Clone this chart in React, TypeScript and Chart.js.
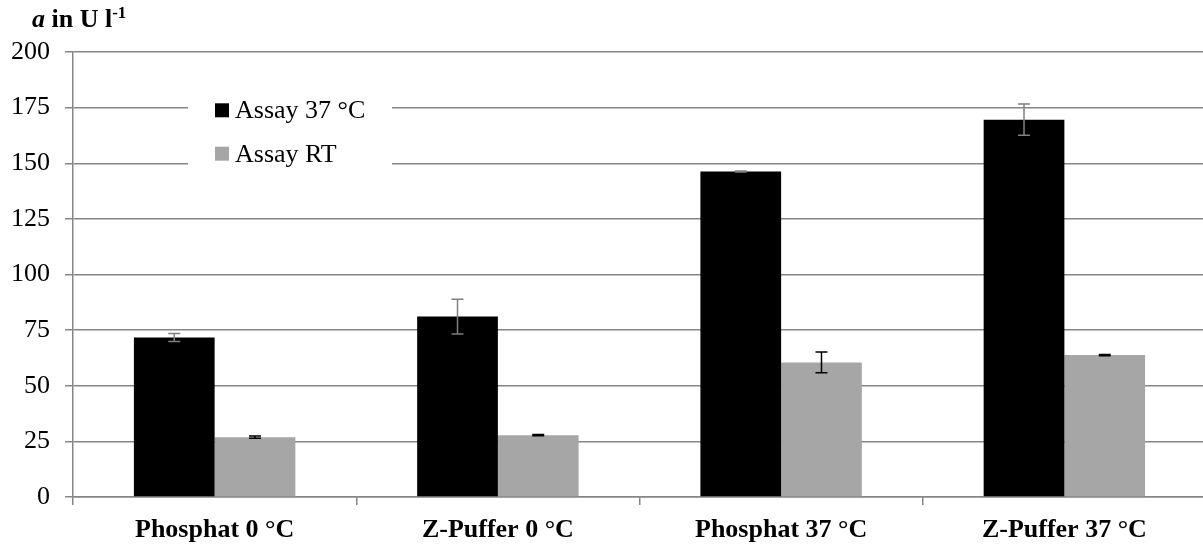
import React, { useEffect, useRef } from "react";
import { Chart, registerables } from "chart.js";

Chart.register(...registerables);

const categories = ["Phosphat 0 °C", "Z-Puffer 0 °C", "Phosphat 37 °C", "Z-Puffer 37 °C"];
const seriesNames = ["Assay 37 °C", "Assay RT"];
const assay37 = [71.7, 81.1, 146.3, 169.6];
const assay37Err = [1.8, 7.8, 0.2, 7.0];
const assayRT = [26.9, 27.8, 60.5, 63.8];
const assayRTErr = [0.5, 0.3, 4.7, 0.3];
const yTicks = [0, 25, 50, 75, 100, 125, 150, 175, 200];

const seriesColors = ["#000000", "#a6a6a6"];
const errColors = ["#808080", "#000000"];
const FONT = "'Liberation Serif', 'DejaVu Serif', serif";

const errorBarPlugin = {
  id: "errorBars",
  afterDatasetsDraw(chart: any) {
    const ctx = chart.ctx;
    const yScale = chart.scales.y;
    const errs = [assay37Err, assayRTErr];
    chart.data.datasets.forEach((ds: any, di: number) => {
      const meta = chart.getDatasetMeta(di);
      meta.data.forEach((el: any, i: number) => {
        const v = ds.data[i];
        const e = errs[di][i];
        const yt = yScale.getPixelForValue(v + e);
        const yb = yScale.getPixelForValue(v - e);
        const x = el.x;
        ctx.save();
        ctx.strokeStyle = errColors[di];
        ctx.lineWidth = 1.5;
        ctx.beginPath();
        ctx.moveTo(x, yt);
        ctx.lineTo(x, yb);
        ctx.moveTo(x - 6, yt);
        ctx.lineTo(x + 6, yt);
        ctx.moveTo(x - 6, yb);
        ctx.lineTo(x + 6, yb);
        ctx.stroke();
        ctx.restore();
      });
    });
  },
};

const legendTitlePlugin = {
  id: "legendTitle",
  afterDraw(chart: any) {
    const ctx = chart.ctx;
    ctx.save();
    // legend box
    ctx.fillStyle = "#ffffff";
    ctx.fillRect(188, 90, 204, 88);
    const baselines = [118.3, 161.7];
    const squareTops = [103.3, 146.7];
    chart.data.datasets.forEach((ds: any, i: number) => {
      ctx.fillStyle = seriesColors[i];
      ctx.fillRect(215, squareTops[i], 14, 14);
      ctx.fillStyle = "#000000";
      ctx.font = `26px ${FONT}`;
      ctx.textBaseline = "alphabetic";
      ctx.textAlign = "left";
      ctx.fillText(ds.label, 235, baselines[i]);
    });
    // axis title
    ctx.textBaseline = "alphabetic";
    ctx.fillStyle = "#000000";
    let x = 32;
    const base = 27;
    ctx.font = `italic bold 26px ${FONT}`;
    ctx.fillText("a", x, base);
    x += ctx.measureText("a").width;
    ctx.font = `bold 26px ${FONT}`;
    ctx.fillText(" in U l", x, base);
    x += ctx.measureText(" in U l").width;
    ctx.font = `bold 17px ${FONT}`;
    ctx.fillText("-1", x, base - 9);
    ctx.restore();
  },
};

export default function App() {
  const ref = useRef<HTMLCanvasElement>(null);
  useEffect(() => {
    if (!ref.current) return;
    const chart = new Chart(ref.current, {
      type: "bar",
      data: {
        labels: categories,
        datasets: [
          { label: seriesNames[0], data: assay37, backgroundColor: seriesColors[0], borderWidth: 0 },
          { label: seriesNames[1], data: assayRT, backgroundColor: seriesColors[1], borderWidth: 0 },
        ],
      },
      options: {
        animation: false,
        responsive: false,
        maintainAspectRatio: false,
        events: [],
        layout: { padding: { top: 52, right: 4, left: 0, bottom: 0 } },
        plugins: {
          legend: { display: false },
          tooltip: { enabled: false },
          title: { display: false },
        },
        datasets: { bar: { categoryPercentage: 0.57, barPercentage: 1 } },
        scales: {
          x: {
            grid: { drawOnChartArea: false, drawTicks: true, tickLength: 8, color: "#868686", lineWidth: 1.5, offset: true },
            border: { color: "#868686", width: 1.5 },
            ticks: { color: "#000000", font: { family: FONT, size: 26, weight: "bold" }, padding: 10, maxRotation: 0 },
            afterFit(scale: any) { scale.height = 47; },
          },
          y: {
            min: 0,
            max: 200,
            afterBuildTicks(scale: any) { scale.ticks = yTicks.map((v) => ({ value: v })); },
            grid: { color: "#868686", lineWidth: 1.5, tickLength: 8 },
            border: { color: "#868686", width: 1.5 },
            ticks: { color: "#000000", font: { family: FONT, size: 26 }, padding: 15 },
            afterFit(scale: any) { scale.width = 73; },
          },
        },
      },
      plugins: [errorBarPlugin, legendTitlePlugin],
    } as any);
    return () => chart.destroy();
  }, []);
  return (
    <div style={{ position: "fixed", left: 0, top: 0, width: 1203, height: 544, overflow: "hidden", background: "#fff" }}>
      <canvas ref={ref} width={1210} height={544} style={{ width: 1210, height: 544, display: "block" }} />
    </div>
  );
}
